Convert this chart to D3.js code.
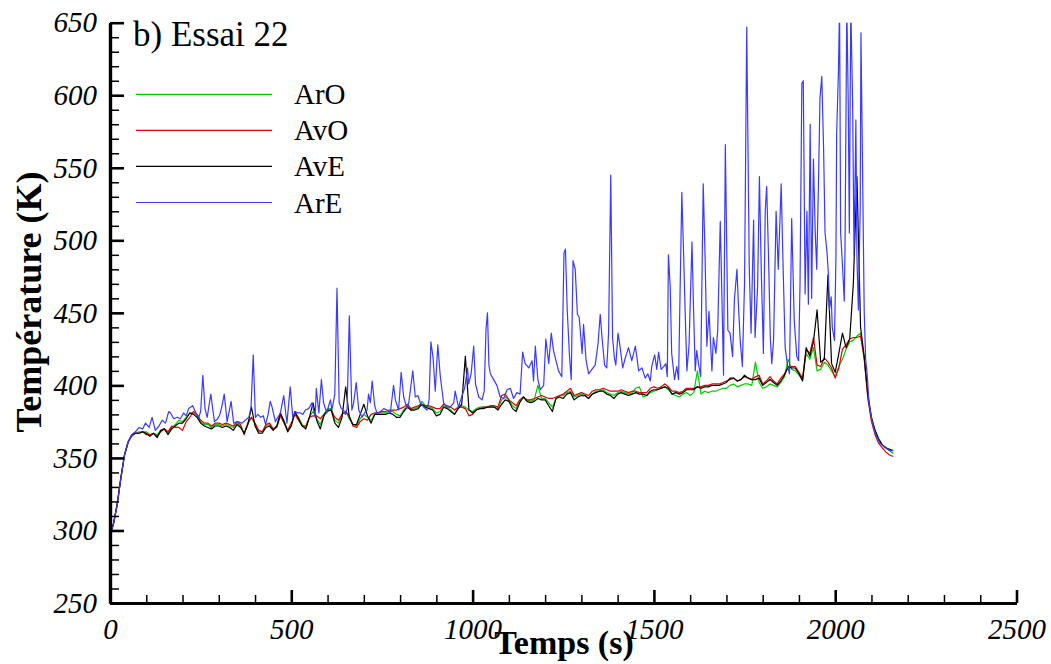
<!DOCTYPE html>
<html><head><meta charset="utf-8">
<script src="https://cdn.jsdelivr.net/npm/d3@7"></script>
<style>
body{margin:0;background:#fff}
svg{display:block}
text{font-family:"Liberation Serif","Times New Roman",Tinos,serif;fill:#000}
</style>
</head><body>
<svg id="chart" width="1051" height="664"></svg>
<script>
// ---------- DATA ----------
const times = [0,10,20,30,40,50,60,70,80,90,100,110,120,130,140,150,160,170,180,190,
200,210,220,230,240,250,260,270,280,290,300,310,320,330,340,350,360,370,380,390,
400,410,420,430,440,450,460,470,480,490,500,510,520,530,540,550,560,570,580,590,
600,610,620,630,640,650,660,670,680,690,700,710,720,730,740,750,760,770,780,790,
800,810,820,830,840,850,860,870,880,890,900,910,920,930,940,950,960,970,980,990,
1000,1010,1020,1030,1040,1050,1060,1070,1080,1090,1100,1110,1120,1130,1140,1150,1160,1170,1180,1190,
1200,1210,1220,1230,1240,1250,1260,1270,1280,1290,1300,1310,1320,1330,1340,1350,1360,1370,1380,1390,
1400,1410,1420,1430,1440,1450,1460,1470,1480,1490,1500,1510,1520,1530,1540,1550,1560,1570,1580,1590,
1600,1610,1620,1630,1640,1650,1660,1670,1680,1690,1700,1710,1720,1730,1740,1750,1760,1770,1780,1790,
1800,1810,1820,1830,1840,1850,1860,1870,1880,1890,1900,1910,1920,1930,1940,1950,1960,1970,1980,1990,
2000,2010,2020,2030,2040,2050,2060,2070,2080,2090,2100,2110,2120,2130,2140,2150,2160];

const arO = [296,305,318,336,352,361,366,367,368,368,
368,366,367,366,369,370,367,371,373,376,
375,378,381,381,379,375,373,373,371,373,
373,372,373,372,371,374,372,367,373,378,
373,368,368,372,373,370,372,380,376,369,
373,381,378,373,371,378,382,377,373,380,
384,384,376,374,380,382,377,373,372,377,
380,378,376,380,381,381,381,382,382,380,
379,383,386,383,384,385,389,386,385,384,
381,382,386,385,383,380,384,386,385,383,
382,384,385,385,385,386,385,384,390,392,
390,386,384,389,392,390,389,390,400,391,
391,388,385,391,393,393,395,396,392,393,
394,393,391,394,396,396,397,395,394,393,
395,396,395,394,395,398,399,392,393,395,
396,397,398,399,397,394,393,392,394,395,
393,395,410,394,396,395,396,396,397,398,
398,400,401,399,400,401,401,400,416,402,
398,399,401,400,399,402,406,418,411,410,
407,404,422,418,426,410,411,416,414,410,
406,413,418,425,430,431,434,436,418,392,
377,369,363,359,357,355,353];

const avO = [296,305,319,337,352,361,365,367,367,368,
366,366,367,365,368,370,368,372,371,371,
369,375,378,382,380,376,374,374,372,374,
374,373,374,373,372,375,373,366,374,378,
374,369,368,373,374,370,371,379,374,369,
374,380,376,372,372,378,379,379,377,380,
382,383,378,376,380,382,379,372,371,375,
377,376,380,381,381,382,382,383,383,383,
384,385,387,384,385,386,387,386,386,385,
384,384,387,386,385,383,385,385,384,379,
380,383,384,385,385,386,386,385,393,394,
390,388,386,390,392,390,390,391,392,393,
392,391,391,392,393,394,396,398,393,394,
395,394,393,396,397,397,398,397,396,396,
396,397,396,395,396,396,395,395,395,398,
399,398,399,401,399,396,396,395,396,398,
398,398,399,399,400,400,401,401,401,402,
403,404,405,403,404,406,405,404,406,407,
401,403,406,403,401,405,408,412,413,413,
409,405,425,422,433,414,413,419,416,412,
405,412,425,428,432,433,433,434,419,391,
375,366,360,357,354,352,351];

const avE = [296,305,318,336,352,361,366,367,367,368,
367,365,367,364,369,370,366,370,372,374,
374,377,381,380,378,374,372,371,370,372,
372,371,372,371,369,373,371,367,373,385,
372,367,367,371,372,369,372,381,375,368,
372,382,377,372,370,378,388,376,370,379,
383,383,374,371,378,399,378,373,373,380,
387,379,374,380,380,380,380,381,380,378,
378,382,385,383,383,384,387,385,384,383,
379,380,385,384,382,380,384,387,420,383,
381,383,384,384,385,385,385,383,387,390,
389,384,382,388,392,389,388,389,391,390,
390,386,382,391,392,391,394,395,390,392,
393,393,391,394,395,396,396,394,393,391,
394,395,394,393,394,395,394,394,393,396,
397,397,398,399,398,394,395,394,395,397,
397,397,399,398,399,399,400,400,400,401,
402,405,405,403,404,407,405,404,404,405,
400,402,404,402,400,403,407,413,412,412,
408,403,426,420,430,452,416,418,476,415,
409,422,436,426,432,470,544,440,420,394,
378,369,363,359,357,356,355];

// ArE: [time (s), temperature (K)]
const arE = [[0,296],[10,305],[20,318],[30,336],[40,352],[50,361],[60,366],[70,368],[80,371],[90,370],
[98,374],[108,371],[116,378],[125,369],[135,372],[144,376],[153,374],[162,382],[167,381],[176,377],
[185,378],[194,377],[203,381],[210,379],[217,384],[228,386],[237,381],[245,378],[250,382],[256,407],
[262,384],[268,378],[278,394],[288,375],[297,377],[303,380],[309,386],[315,394],[323,375],[334,389],
[341,374],[352,375],[364,374],[373,376],[383,378],[389,385],[395,421],[401,378],[408,380],[416,378],
[423,379],[429,373],[436,380],[442,389],[447,385],[456,375],[463,378],[470,381],[479,393],[488,374],
[497,399],[504,378],[511,382],[518,381],[525,381],[532,380],[539,383],[548,384],[557,388],[566,378],
[569,398],[576,381],[583,404],[589,388],[598,381],[603,386],[608,390],[612,383],[620,394],[626,467],
[632,388],[638,384],[644,383],[649,380],[654,384],[660,448],[667,383],[672,388],[679,402],[686,383],
[695,378],[702,381],[709,383],[713,394],[718,388],[723,403],[730,386],[736,381],[746,382],[755,384],
[764,383],[773,381],[782,400],[787,390],[796,383],[803,409],[810,392],[819,384],[824,388],[835,410],
[842,392],[849,393],[856,388],[865,385],[874,383],[880,390],[885,430],[891,419],[897,396],[904,428],
[911,406],[920,388],[929,385],[938,385],[948,388],[952,396],[961,385],[971,393],[978,398],[986,412],
[989,401],[996,408],[1003,427],[1008,401],[1017,392],[1026,390],[1032,396],[1037,439],[1041,450],[1045,414],
[1049,408],[1058,404],[1067,400],[1076,392],[1086,391],[1095,397],[1104,398],[1113,391],[1122,395],[1131,394],
[1138,423],[1145,415],[1155,412],[1164,417],[1168,403],[1173,427],[1180,404],[1187,397],[1196,400],[1202,432],
[1210,415],[1217,436],[1223,424],[1230,417],[1237,410],[1246,406],[1252,491],[1256,494],[1261,452],[1267,421],
[1272,404],[1277,486],[1283,480],[1289,449],[1294,447],[1302,422],[1306,442],[1313,417],[1320,408],[1329,411],
[1338,414],[1346,429],[1352,449],[1357,433],[1364,414],[1370,412],[1375,436],[1381,545],[1386,433],[1391,419],
[1395,414],[1401,436],[1407,426],[1414,412],[1421,419],[1430,426],[1439,417],[1449,427],[1458,410],[1467,412],
[1476,405],[1483,408],[1490,403],[1494,413],[1502,421],[1508,411],[1513,423],[1520,411],[1527,413],[1533,415],
[1537,406],[1540,490],[1545,468],[1549,422],[1557,404],[1563,413],[1568,404],[1577,533],[1582,490],[1586,452],
[1591,410],[1597,428],[1605,499],[1609,456],[1614,410],[1618,424],[1623,415],[1629,406],[1636,539],[1641,490],
[1646,427],[1652,451],[1660,410],[1664,433],[1671,422],[1676,438],[1683,513],[1687,468],[1692,407],[1697,566],
[1704,438],[1710,436],[1717,420],[1722,459],[1729,480],[1733,456],[1738,431],[1744,413],[1750,471],[1756,647],
[1763,480],[1768,436],[1775,514],[1779,433],[1786,468],[1791,544],[1796,480],[1802,422],[1807,520],[1811,537],
[1816,490],[1821,433],[1825,415],[1830,431],[1837,520],[1843,480],[1851,539],[1856,485],[1862,426],[1869,413],
[1874,408],[1880,515],[1887,445],[1894,420],[1899,417],[1903,470],[1908,608],[1912,610],[1917,463],[1922,520],
[1926,456],[1931,580],[1935,460],[1940,556],[1945,505],[1949,480],[1954,541],[1958,598],[1963,613],[1968,563],
[1972,505],[1977,493],[1981,478],[1984,452],[1989,461],[1992,440],[1998,431],[2002,488],[2004,573],[2009,617],
[2012,662],[2015,505],[2020,483],[2025,458],[2027,493],[2032,662],[2036,595],[2039,505],[2043,662],[2048,595],
[2052,490],[2057,583],[2060,488],[2064,452],[2069,522],[2071,643],[2076,537],[2080,451],[2084,418],[2089,405],
[2093,388],[2101,376],[2110,367],[2124,360],[2138,357],[2151,355],[2160,355]];

const seriesNames = ["ArO","AvO","AvE","ArE"];
const seriesColors = ["#00cc00","#e00000","#000000","#3a3aff"];
const xMajorTicks = [0,500,1000,1500,2000,2500];
const yMajorTicks = [250,300,350,400,450,500,550,600,650];
const xMinorStep = 100, yMinorStep = 10;
const panelTitle = "b) Essai 22";
const xTitle = "Temps (s)";
const yTitle = "Température (K)";

// ---------- CHART ----------
const FONT = '"Liberation Serif","Times New Roman",Tinos,serif';
const svg = d3.select("#chart");
const x = d3.scaleLinear().domain([0,2500]).range([110,1016.5]);
const y = d3.scaleLinear().domain([250,650]).range([603,22.7]);

const xMinor = d3.range(0,2501,xMinorStep).filter(v=>!xMajorTicks.includes(v));
const yMinor = d3.range(250,651,yMinorStep).filter(v=>!yMajorTicks.includes(v));

svg.append("clipPath").attr("id","plotclip").append("rect")
  .attr("x",110).attr("y",y(650)).attr("width",x(2500)-110).attr("height",y(250)-y(650));

const g = svg.append("g").attr("clip-path","url(#plotclip)");
const line = d3.line().x(d=>x(d[0])).y(d=>y(d[1]));
const lowSeries = [arO,avO,avE].map(vals=>vals.map((v,i)=>[times[i],v]));
lowSeries.forEach((data,i)=>{
  g.append("path").datum(data).attr("d",line)
   .attr("fill","none").attr("stroke",seriesColors[i]).attr("stroke-width",1.2)
   .attr("stroke-linejoin","round");
});
g.append("path").datum(arE).attr("d",line)
  .attr("fill","none").attr("stroke",seriesColors[3]).attr("stroke-width",1.2)
  .attr("stroke-linejoin","round");

// axes
const xMinorAxis = d3.axisBottom(x).tickValues(xMinor).tickSize(-8).tickSizeOuter(0).tickFormat("");
const yMinorAxis = d3.axisLeft(y).tickValues(yMinor).tickSize(-9).tickSizeOuter(0).tickFormat("");
const xAxis = d3.axisBottom(x).tickValues(xMajorTicks).tickSize(-13).tickSizeOuter(0).tickPadding(15).tickFormat(d3.format("d"));
const yAxis = d3.axisLeft(y).tickValues(yMajorTicks).tickSize(-14).tickSizeOuter(0).tickPadding(13).tickFormat(d3.format("d"));

function styleAxis(sel, major){
  sel.attr("font-family",FONT);
  sel.select(".domain").attr("stroke","#000").attr("stroke-width",3.2);
  sel.selectAll(".tick line").attr("stroke","#000").attr("stroke-width", major?2.6:1.5);
  sel.selectAll(".tick text").style("font-family",FONT)
     .style("font-style","italic").style("font-size","29px").attr("fill","#000");
}
svg.append("g").attr("transform",`translate(0,${y(250)})`).call(xMinorAxis).call(s=>styleAxis(s,false));
svg.append("g").attr("transform",`translate(110,0)`).call(yMinorAxis).call(s=>styleAxis(s,false));
svg.append("g").attr("transform",`translate(0,${y(250)})`).call(xAxis).call(s=>styleAxis(s,true));
svg.append("g").attr("transform",`translate(110,0)`).call(yAxis).call(s=>styleAxis(s,true));

// titles
svg.append("text").attr("x",133).attr("y",46).style("font-family",FONT).style("font-size","35px").text(panelTitle);
svg.append("text").attr("x",564).attr("y",654).attr("text-anchor","middle").style("font-family",FONT)
  .style("font-size","34px").style("font-weight","bold").text(xTitle);
svg.append("text").attr("transform","translate(41,302) rotate(-90)").attr("text-anchor","middle").style("font-family",FONT)
  .style("font-size","36px").style("font-weight","bold").text(yTitle);

// legend
const legendY = [94.3,130.3,166.3,202.5];
seriesNames.forEach((name,i)=>{
  svg.append("line").attr("x1",136).attr("x2",272).attr("y1",legendY[i]).attr("y2",legendY[i])
    .attr("stroke",seriesColors[i]).attr("stroke-width",1.2);
  svg.append("text").attr("x",294).attr("y",legendY[i]+10).style("font-family",FONT).style("font-size","29px").text(name);
});
</script>
</body></html>
